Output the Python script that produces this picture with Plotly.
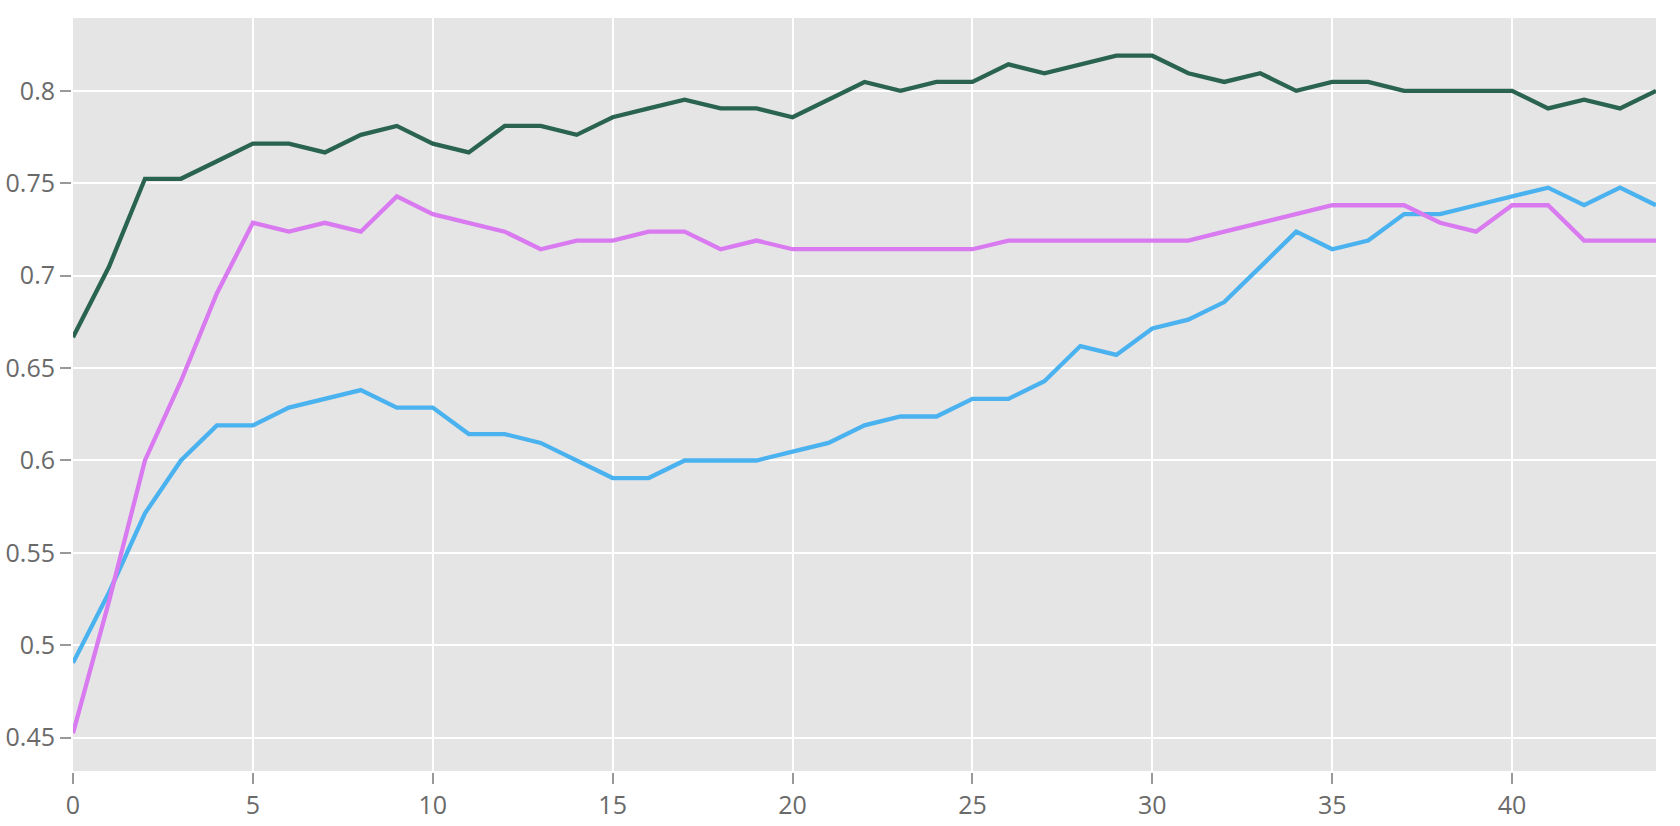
import plotly.graph_objects as go

epochs = list(range(45))

green_values = [0.6667, 0.7048, 0.7524, 0.7524, 0.7619, 0.7714, 0.7714, 0.7667, 0.7762, 0.7810,
                0.7714, 0.7667, 0.7810, 0.7810, 0.7762, 0.7857, 0.7905, 0.7952, 0.7905, 0.7905,
                0.7857, 0.7952, 0.8048, 0.8000, 0.8048, 0.8048, 0.8143, 0.8095, 0.8143, 0.8190,
                0.8190, 0.8095, 0.8048, 0.8095, 0.8000, 0.8048, 0.8048, 0.8000, 0.8000, 0.8000,
                0.8000, 0.7905, 0.7952, 0.7905, 0.8000]

pink_values = [0.4524, 0.5238, 0.6000, 0.6429, 0.6905, 0.7286, 0.7238, 0.7286, 0.7238, 0.7429,
               0.7333, 0.7286, 0.7238, 0.7143, 0.7190, 0.7190, 0.7238, 0.7238, 0.7143, 0.7190,
               0.7143, 0.7143, 0.7143, 0.7143, 0.7143, 0.7143, 0.7190, 0.7190, 0.7190, 0.7190,
               0.7190, 0.7190, 0.7238, 0.7286, 0.7333, 0.7381, 0.7381, 0.7381, 0.7286, 0.7238,
               0.7381, 0.7381, 0.7190, 0.7190, 0.7190]

blue_values = [0.4905, 0.5286, 0.5714, 0.6000, 0.6190, 0.6190, 0.6286, 0.6333, 0.6381, 0.6286,
               0.6286, 0.6143, 0.6143, 0.6095, 0.6000, 0.5905, 0.5905, 0.6000, 0.6000, 0.6000,
               0.6048, 0.6095, 0.6190, 0.6238, 0.6238, 0.6333, 0.6333, 0.6429, 0.6619, 0.6571,
               0.6714, 0.6762, 0.6857, 0.7048, 0.7238, 0.7143, 0.7190, 0.7333, 0.7333, 0.7381,
               0.7429, 0.7476, 0.7381, 0.7476, 0.7381]

x_tick_vals = [0, 5, 10, 15, 20, 25, 30, 35, 40]
y_tick_vals = [0.45, 0.5, 0.55, 0.6, 0.65, 0.7, 0.75, 0.8]
y_tick_text = ["0.45", "0.5", "0.55", "0.6", "0.65", "0.7", "0.75", "0.8"]

fig = go.Figure()
fig.add_trace(go.Scatter(x=epochs, y=blue_values, mode="lines",
                         line=dict(color="#4BB2F0", width=4.3), showlegend=False))
fig.add_trace(go.Scatter(x=epochs, y=pink_values, mode="lines",
                         line=dict(color="#D97AF0", width=4.3), showlegend=False))
fig.add_trace(go.Scatter(x=epochs, y=green_values, mode="lines",
                         line=dict(color="#2A6451", width=4.3), showlegend=False))

axis_common = dict(
    showgrid=True, gridcolor="white", gridwidth=2,
    zeroline=False, automargin=False,
    showline=True, linecolor="white", linewidth=2,
    ticks="outside", ticklen=11, tickwidth=2, tickcolor="#999999",
    tickfont=dict(family="Open Sans", size=25, color="#6a6a6a"),
)

fig.update_layout(
    width=1680, height=826,
    autosize=False,
    paper_bgcolor="white",
    plot_bgcolor="#E5E5E5",
    margin=dict(l=73, r=24, t=18, b=55),
    xaxis=dict(range=[0, 44], tickvals=x_tick_vals, **axis_common),
    yaxis=dict(range=[0.432, 0.8394], tickvals=y_tick_vals, ticktext=y_tick_text, **axis_common),
)

fig.write_html(
    "out.html",
    config={"displayModeBar": False},
    post_script="document.body.style.margin='0';document.body.style.overflow='hidden';",
)
